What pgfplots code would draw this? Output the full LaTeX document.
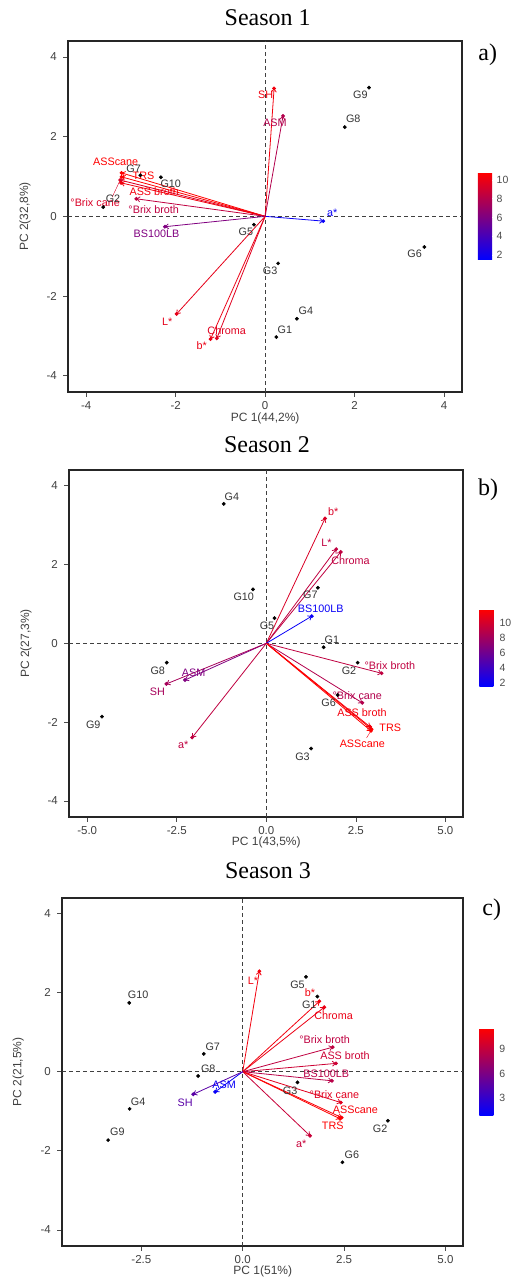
\documentclass[border=0pt]{standalone}
\usepackage{fontspec}
\setmainfont{Liberation Sans}
\newfontfamily\timesf{Liberation Serif}
\usepackage{pgfplots}
\pgfplotsset{compat=1.18}
\usetikzlibrary{arrows.meta}

\pgfplotsset{
  biplot/.style={
    scale only axis, anchor=south west,
    axis line style={line width=1.7bp, black!85},
    tick align=outside, xtick pos=bottom, ytick pos=left,
    major tick length=5bp, tick style={line width=0.6bp, black!70},
    /pgf/number format/assume math mode=true,
    ticklabel style={font=\fontsize{11.5bp}{13bp}\selectfont, text=black!75},
    yticklabel style={xshift=-3bp},
    xticklabel style={yshift=-1bp},
    every axis x label/.style={at={(axis description cs:0.5,-0.075)}, anchor=center,
      font=\fontsize{12bp}{14bp}\selectfont, text=black!75},
    every axis y label/.style={at={(axis description cs:-0.11,0.5)}, rotate=90, anchor=center,
      font=\fontsize{12bp}{14bp}\selectfont, text=black!75},
    ymin=-4.4, ymax=4.4, ytick={-4,-2,0,2,4},
    colormap={br}{rgb255=(0,0,255) rgb255=(255,0,0)},
    colorbar,
    colorbar shift/.style={xshift=16bp},
    colorbar style={scale only axis, at={(parent axis.east)}, anchor=west,
      axis line style={draw=none}, ytick pos=right,
      yticklabel pos=right, tick align=inside, major tick length=3bp,
      tick style={white, line width=0.6bp},
      yticklabel style={font=\fontsize{10.5bp}{12bp}\selectfont, text=black!70, xshift=-1.5bp},
      /pgf/number format/assume math mode=true},
  },
  arr/.style={color=red!#1!blue, line width=0.8bp,
    -{Straight Barb[length=3bp, width=5bp]},
    mark=*, mark size=1.5bp, mark indices={2}, forget plot},
  pts/.style={only marks, mark=*, mark size=1.7bp, black, forget plot},
  zero/.style={black!75, line width=1.2bp, dash pattern=on 4bp off 3bp, forget plot},
}
\tikzset{
  lab/.style={text=red!#1!blue, font=\fontsize{10.8bp}{12bp}\selectfont, inner sep=0pt},
  glab/.style={text=black!80, font=\fontsize{10.8bp}{12bp}\selectfont, inner sep=0pt},
  ttl/.style={font=\timesf\fontsize{24bp}{28bp}\selectfont, inner sep=0pt},
}

\begin{document}
\begin{tikzpicture}
\useasboundingbox (0,0) rectangle (512bp,1282bp);

% ---------------- Season 1
\node[ttl] at (267.7bp,1264bp) {Season 1};
\node[ttl] at (487.7bp,1227bp) {a)};
\begin{axis}[biplot, at={(68.3bp,890.3bp)}, width=393.7bp, height=350.7bp,
  xmin=-4.4, xmax=4.4, xtick={-4,-2,0,2,4},
  xlabel={PC 1(44,2\%)}, ylabel={PC 2(32,8\%)},
  point meta min=1.5, point meta max=10.75,
  colorbar style={width=16.7bp, height=87bp, ytick={2,4,6,8,10}}]
\addplot[zero] coordinates {(-4.4,0) (4.4,0)};
\addplot[zero] coordinates {(0,-4.4) (0,4.4)};
\addplot[arr=95] coordinates {(0,0) (0.20,3.21)};
\addplot[arr=70] coordinates {(0,0) (0.40,2.52)};
\addplot[arr=100] coordinates {(0,0) (-3.21,1.09)};
\addplot[arr=100] coordinates {(0,0) (-3.21,0.99)};
\addplot[arr=85] coordinates {(0,0) (-3.24,0.91)};
\addplot[arr=95] coordinates {(0,0) (-3.22,0.84)};
\addplot[arr=75] coordinates {(0,0) (-2.88,0.44)};
\addplot[arr=50] coordinates {(0,0) (-2.24,-0.26)};
\addplot[arr=3] coordinates {(0,0) (1.30,-0.12)};
\addplot[arr=90] coordinates {(0,0) (-1.98,-2.45)};
\addplot[arr=92] coordinates {(0,0) (-1.22,-3.08)};
\addplot[arr=88] coordinates {(0,0) (-1.08,-3.06)};
\addplot[red!85!blue, line width=0.4bp, forget plot] coordinates {(-3.24,0.91) (-3.42,0.48)};
\addplot[pts] coordinates {(2.32,3.23) (1.78,2.24) (-2.79,1.03) (-2.33,0.98)
  (-3.62,0.23) (-0.25,-0.21) (0.29,-1.18) (3.56,-0.77) (0.71,-2.57) (0.25,-3.03)};
\node[lab=95] at (axis cs:0.01,3.04) {SH};
\node[lab=70] at (axis cs:0.22,2.34) {ASM};
\node[lab=100] at (axis cs:-3.34,1.38) {ASScane};
\node[lab=100] at (axis cs:-2.72,1.01) {TRS};
\node[lab=95] at (axis cs:-2.48,0.61) {ASS broth};
\node[lab=85] at (axis cs:-3.80,0.35) {°Brix cane};
\node[lab=75] at (axis cs:-2.49,0.18) {°Brix broth};
\node[lab=50] at (axis cs:-2.43,-0.45) {BS100LB};
\node[lab=3] at (axis cs:1.50,0.10) {a*};
\node[lab=90] at (axis cs:-2.19,-2.65) {L*};
\node[lab=92] at (axis cs:-1.42,-3.25) {b*};
\node[lab=88] at (axis cs:-0.86,-2.87) {Chroma};
\node[glab] at (axis cs:2.13,3.06) {G9};
\node[glab] at (axis cs:1.97,2.44) {G8};
\node[glab] at (axis cs:-2.94,1.20) {G7};
\node[glab] at (axis cs:-2.11,0.81) {G10};
\node[glab] at (axis cs:-3.40,0.43) {G2};
\node[glab] at (axis cs:-0.43,-0.40) {G5};
\node[glab] at (axis cs:0.11,-1.37) {G3};
\node[glab] at (axis cs:3.34,-0.95) {G6};
\node[glab] at (axis cs:0.91,-2.38) {G4};
\node[glab] at (axis cs:0.44,-2.84) {G1};
\end{axis}

% ---------------- Season 2
\node[ttl] at (267bp,837bp) {Season 2};
\node[ttl] at (488bp,792bp) {b)};
\begin{axis}[biplot, at={(69.3bp,465.3bp)}, width=394bp, height=346.7bp,
  xmin=-5.5, xmax=5.5, xtick={-5,-2.5,0,2.5,5},
  xticklabel style={/pgf/number format/.cd, fixed, fixed zerofill, precision=1},
  xlabel={PC 1(43,5\%)}, ylabel={PC 2(27,3\%)},
  point meta min=1.56, point meta max=11.8,
  colorbar style={width=18.3bp, height=76.7bp, yshift=-4.4bp, ytick={2,4,6,8,10}}]
\addplot[zero] coordinates {(-5.5,0) (5.5,0)};
\addplot[zero] coordinates {(0,-4.4) (0,4.4)};
\addplot[arr=85] coordinates {(0,0) (1.64,3.17)};
\addplot[arr=75] coordinates {(0,0) (1.95,2.39)};
\addplot[arr=75] coordinates {(0,0) (2.08,2.32)};
\addplot[arr=3] coordinates {(0,0) (1.27,0.69)};
\addplot[arr=75] coordinates {(0,0) (3.22,-0.76)};
\addplot[arr=70] coordinates {(0,0) (2.68,-1.51)};
\addplot[arr=95] coordinates {(0,0) (2.90,-2.12)};
\addplot[arr=100] coordinates {(0,0) (2.94,-2.18)};
\addplot[arr=100] coordinates {(0,0) (2.92,-2.22)};
\addplot[arr=50] coordinates {(0,0) (-2.27,-0.93)};
\addplot[arr=65] coordinates {(0,0) (-2.79,-1.03)};
\addplot[arr=75] coordinates {(0,0) (-2.07,-2.39)};
\addplot[red!95!blue, line width=0.4bp, forget plot] coordinates {(2.92,-2.22) (2.80,-2.40)};
\addplot[pts] coordinates {(-1.19,3.54) (-0.37,1.37) (1.44,1.41) (0.23,0.64)
  (1.60,-0.10) (2.55,-0.49) (1.99,-1.31) (1.25,-2.67) (-2.78,-0.49) (-4.59,-1.86)};
\node[lab=85] at (axis cs:1.87,3.34) {b*};
\node[lab=75] at (axis cs:1.68,2.56) {L*};
\node[lab=75] at (axis cs:2.35,2.10) {Chroma};
\node[lab=3] at (axis cs:1.52,0.87) {BS100LB};
\node[lab=75] at (axis cs:3.45,-0.57) {°Brix broth};
\node[lab=70] at (axis cs:2.54,-1.33) {°Brix cane};
\node[lab=95] at (axis cs:2.67,-1.76) {ASS broth};
\node[lab=100] at (axis cs:3.46,-2.14) {TRS};
\node[lab=100] at (axis cs:2.68,-2.54) {ASScane};
\node[lab=50] at (axis cs:-2.03,-0.74) {ASM};
\node[lab=65] at (axis cs:-3.04,-1.24) {SH};
\node[lab=75] at (axis cs:-2.32,-2.58) {a*};
\node[glab] at (axis cs:-0.96,3.72) {G4};
\node[glab] at (axis cs:-0.63,1.17) {G10};
\node[glab] at (axis cs:1.23,1.23) {G7};
\node[glab] at (axis cs:0.02,0.44) {G5};
\node[glab] at (axis cs:1.83,0.10) {G1};
\node[glab] at (axis cs:2.31,-0.70) {G2};
\node[glab] at (axis cs:1.74,-1.52) {G6};
\node[glab] at (axis cs:1.01,-2.88) {G3};
\node[glab] at (axis cs:-3.03,-0.70) {G8};
\node[glab] at (axis cs:-4.83,-2.06) {G9};
\end{axis}

% ---------------- Season 3
\node[ttl] at (268bp,411.3bp) {Season 3};
\node[ttl] at (491.7bp,372bp) {c)};
\begin{axis}[biplot, at={(62.3bp,36.3bp)}, width=401bp, height=348bp,
  xmin=-4.45, xmax=5.44, xtick={-2.5,0,2.5,5},
  xticklabel style={/pgf/number format/.cd, fixed, fixed zerofill, precision=1},
  xlabel={PC 1(51\%)}, ylabel={PC 2(21,5\%)},
  point meta min=0.96, point meta max=11.57,
  colorbar style={width=18bp, height=86.7bp, ytick={3,6,9}}]
\addplot[zero] coordinates {(-4.45,0) (5.44,0)};
\addplot[zero] coordinates {(0,-4.4) (0,4.4)};
\addplot[arr=95] coordinates {(0,0) (0.41,2.54)};
\addplot[arr=95] coordinates {(0,0) (1.89,1.78)};
\addplot[arr=92] coordinates {(0,0) (2.01,1.63)};
\addplot[arr=75] coordinates {(0,0) (2.22,0.62)};
\addplot[arr=80] coordinates {(0,0) (2.30,0.21)};
\addplot[arr=72] coordinates {(0,0) (2.20,-0.23)};
\addplot[arr=88] coordinates {(0,0) (2.42,-0.78)};
\addplot[arr=97] coordinates {(0,0) (2.44,-1.16)};
\addplot[arr=100] coordinates {(0,0) (2.40,-1.19)};
\addplot[arr=78] coordinates {(0,0) (1.66,-1.62)};
\addplot[arr=3] coordinates {(0,0) (-0.68,-0.51)};
\addplot[arr=35] coordinates {(0,0) (-1.22,-0.57)};
\addplot[pts] coordinates {(-2.80,1.74) (1.56,2.40) (1.84,1.90) (-0.96,0.45)
  (-1.10,-0.11) (1.35,-0.27) (-2.79,-0.94) (-3.32,-1.73) (3.58,-1.24) (2.46,-2.29)};
\node[lab=95] at (axis cs:0.25,2.30) {L*};
\node[lab=95] at (axis cs:1.66,2.01) {b*};
\node[lab=92] at (axis cs:2.24,1.41) {Chroma};
\node[lab=75] at (axis cs:2.02,0.81) {°Brix broth};
\node[lab=80] at (axis cs:2.52,0.40) {ASS broth};
\node[lab=72] at (axis cs:2.06,-0.06) {BS100LB};
\node[lab=88] at (axis cs:2.26,-0.59) {°Brix cane};
\node[lab=97] at (axis cs:2.78,-0.97) {ASScane};
\node[lab=100] at (axis cs:2.22,-1.37) {TRS};
\node[lab=78] at (axis cs:1.44,-1.83) {a*};
\node[lab=3] at (axis cs:-0.46,-0.34) {ASM};
\node[lab=35] at (axis cs:-1.42,-0.79) {SH};
\node[glab] at (axis cs:-2.58,1.94) {G10};
\node[glab] at (axis cs:1.35,2.20) {G5};
\node[glab] at (axis cs:1.64,1.69) {G1};
\node[glab] at (axis cs:-0.74,0.62) {G7};
\node[glab] at (axis cs:-0.85,0.08) {G8};
\node[glab] at (axis cs:1.17,-0.47) {G3};
\node[glab] at (axis cs:-2.58,-0.75) {G4};
\node[glab] at (axis cs:-3.09,-1.53) {G9};
\node[glab] at (axis cs:3.39,-1.45) {G2};
\node[glab] at (axis cs:2.69,-2.10) {G6};
\end{axis}
\end{tikzpicture}
\end{document}
